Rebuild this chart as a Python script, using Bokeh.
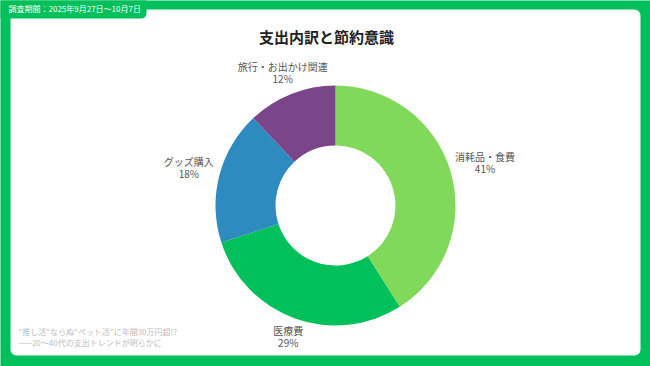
import numpy as np
from bokeh.plotting import figure
from bokeh.models import Range1d, BoxAnnotation
from bokeh.core.properties import value
from bokeh.embed import file_html
from bokeh.resources import INLINE

# ---- data ----
categories = ["消耗品・食費", "医療費", "グッズ購入", "旅行・お出かけ関連"]
shares = [41, 29, 18, 12]
colors = ["#80D95A", "#00C05C", "#2E8BBF", "#7B4589"]
title = "支出内訳と節約意識"
period = "調査期間：2025年9月27日～10月7日"
footer = ["“推し活”ならぬ“ペット活”に年間30万円超!?", "——20～40代の支出トレンドが明らかに"]

FONT = value("Noto Sans CJK JP")
GREEN = "#00C05C"
H = 366  # reference height, used to flip y

def Y(y):
    return H - y

p = figure(width=650, height=366, output_backend="svg", toolbar_location=None,
           x_range=Range1d(0, 650), y_range=Range1d(0, 366),
           x_axis_type=None, y_axis_type=None, min_border=0)
p.grid.visible = False
p.outline_line_color = None
p.background_fill_color = GREEN
p.border_fill_color = GREEN

# white card and tab
card = BoxAnnotation(left=10, right=640, top=Y(9), bottom=Y(355), fill_color="white",
                     fill_alpha=1, line_color=None, border_radius=6, level="underlay")
p.add_layout(card)
tab = BoxAnnotation(left=-5, right=146, top=Y(-5), bottom=Y(18), fill_color=GREEN,
                    fill_alpha=1, line_color=None, border_radius=(0, 0, 5, 0), level="underlay")
p.add_layout(tab)

# donut
cx, cy = 335, Y(205)
r_out, r_in = 120, 60
vals = np.array(shares, dtype=float)
frac = vals / vals.sum()
cum = np.concatenate([[0], np.cumsum(frac)])
start = np.pi / 2 - cum[:-1] * 2 * np.pi
end = np.pi / 2 - cum[1:] * 2 * np.pi
p.annular_wedge(x=cx, y=cy, inner_radius=r_in, outer_radius=r_out,
                start_angle=start, end_angle=end, direction="clock",
                fill_color=colors, line_color=None)

# labels placed outside each slice along its mid-angle
fs = 10
char_w = 9.7
for cat, s, a0, a1 in zip(categories, shares, cum[:-1], cum[1:]):
    th = (a0 + a1) * np.pi
    dx, dy = np.sin(th), np.cos(th)
    hw = len(cat) * char_w / 2
    hh = 11
    d = r_out + 8 + hw * dx * dx + hh * dy * dy
    bx, by = cx + dx * d, cy + dy * d
    p.text(x=[bx, bx], y=[by + 6, by - 6], text=[cat, f"{s}%"],
           text_font=FONT, text_font_size=f"{fs}px", text_color="#555555",
           text_align="center", text_baseline="middle")

# title
p.text(x=[326], y=[Y(36)], text=[title], text_font=FONT, text_font_size="15px",
       text_font_style="bold", text_color="#222222", text_align="center", text_baseline="middle")

# period tab text
p.text(x=[8], y=[Y(8)], text=[period], text_font=FONT, text_font_size="8px",
       text_color="white", text_align="left", text_baseline="middle")

# footer
p.text(x=[18, 18], y=[Y(331), Y(342)], text=footer, text_font=FONT, text_font_size="8px",
       text_color="#BBBBBB", text_align="left", text_baseline="middle")

open("out.html", "w").write(file_html(p, INLINE))
